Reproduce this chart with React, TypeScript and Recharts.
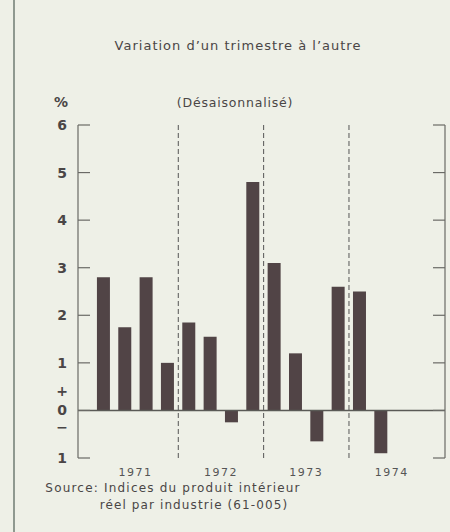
import React from 'react';
import { ComposedChart, Bar, Line, XAxis, YAxis, ReferenceLine } from 'recharts';

const quarters = [1, 2, 3, 4, 5, 6, 7, 8, 9, 10, 11, 12, 13, 14];
const changes = [2.8, 1.75, 2.8, 1.0, 1.85, 1.55, -0.25, 4.8, 3.1, 1.2, -0.65, 2.6, 2.5, -0.9];
const yearLabels = ['1971', '1972', '1973', '1974'];
const yearTickPos = [2.5, 6.5, 10.5, 14.5];
const yearBreaks = [4.5, 8.5, 12.5];
const yTicks = [-1, 0, 1, 2, 3, 4, 5, 6];
const yTickLabels = ['1', '0', '1', '2', '3', '4', '5', '6'];

const data = quarters.map((q, i) => ({ q, v: changes[i] }));

const INK = '#4a4646';
const AXIS = '#6a6a66';
const FONT = '"DejaVu Sans", "Liberation Sans", sans-serif';

const LeftTick = (props: any) => {
  const { x, y, payload } = props;
  const idx = yTicks.indexOf(payload.value);
  return (
    <g>
      <line x1={x} x2={x + 12} y1={y} y2={y} stroke={AXIS} strokeWidth={1.2} />
      <text x={x - 16} y={y} dy={5} textAnchor="middle" fontSize={14} fontWeight={600} fill={INK} fontFamily={FONT}>
        {yTickLabels[idx]}
      </text>
      {payload.value === 0 && (
        <>
          <text x={x - 16} y={y - 19} dy={5} textAnchor="middle" fontSize={14} fontWeight={600} fill={INK} fontFamily={FONT}>+</text>
          <text x={x - 16} y={y + 17} dy={5} textAnchor="middle" fontSize={14} fontWeight={600} fill={INK} fontFamily={FONT}>−</text>
        </>
      )}
    </g>
  );
};

const RightTick = (props: any) => {
  const { x, y } = props;
  return <line x1={x - 12} x2={x} y1={y} y2={y} stroke={AXIS} strokeWidth={1.2} />;
};

const YearTick = (props: any) => {
  const { x, y, payload } = props;
  const idx = yearTickPos.indexOf(payload.value);
  return (
    <text x={x} y={y + 10} textAnchor="middle" fontSize={11} letterSpacing={1.5} fill="#555" fontFamily={FONT}>
      {yearLabels[idx]}
    </text>
  );
};

const textStyle: React.CSSProperties = {
  position: 'absolute',
  fontFamily: FONT,
  color: INK,
  whiteSpace: 'nowrap',
  transform: 'translateX(-50%)',
  lineHeight: '15px',
};

export default function App() {
  return (
    <div style={{ position: 'absolute', left: 0, top: 0, width: 450, height: 532, background: '#eef0e7', overflow: 'hidden' }}>
      <div style={{ position: 'absolute', left: 13, top: 0, width: 2, height: 532, background: '#8f9990' }} />
      <div style={{ ...textStyle, left: 238, top: 38, fontSize: 13, letterSpacing: 1 }}>Variation d’un trimestre à l’autre</div>
      <div style={{ ...textStyle, left: 61, top: 95, fontSize: 14, fontWeight: 700 }}>%</div>
      <div style={{ ...textStyle, left: 235, top: 95, fontSize: 12.5, letterSpacing: 0.8 }}>(Désaisonnalisé)</div>
      <ComposedChart
        width={450}
        height={532}
        data={data}
        margin={{ top: 125, right: 0, bottom: 54, left: 48 }}
        style={{ position: 'absolute', left: 0, top: 0 }}
      >
        <XAxis
          dataKey="q"
          type="number"
          domain={[-0.2, 17]}
          ticks={yearTickPos}
          axisLine={false}
          tickLine={false}
          tick={<YearTick />}
          height={20}
          allowDataOverflow
        />
        <YAxis
          yAxisId="left"
          orientation="left"
          domain={[-1, 6]}
          ticks={yTicks}
          width={30}
          tickSize={0}
          tickMargin={0}
          axisLine={{ stroke: AXIS, strokeWidth: 1.2 }}
          tickLine={false}
          tick={<LeftTick />}
          interval={0}
        />
        <YAxis
          yAxisId="right"
          orientation="right"
          domain={[-1, 6]}
          ticks={yTicks}
          width={5}
          tickSize={0}
          tickMargin={0}
          axisLine={{ stroke: AXIS, strokeWidth: 1.2 }}
          tickLine={false}
          tick={<RightTick />}
          interval={0}
        />
        {yearBreaks.map((b) => (
          <ReferenceLine key={b} yAxisId="left" x={b} stroke="#555" strokeWidth={1} strokeDasharray="5 3" />
        ))}
        <Bar yAxisId="left" dataKey="v" fill="#514446" barSize={13} isAnimationActive={false} />
        <Line yAxisId="right" dataKey="v" stroke="none" dot={false} activeDot={false} isAnimationActive={false} />
        <ReferenceLine yAxisId="left" y={0} stroke="#5a5a56" strokeWidth={1.6} />
      </ComposedChart>
      <div style={{ ...textStyle, left: 173, top: 481, fontSize: 12, letterSpacing: 1.2 }}>Source: Indices du produit intérieur</div>
      <div style={{ ...textStyle, left: 194, top: 498, fontSize: 12, letterSpacing: 1.1 }}>réel par industrie (61-005)</div>
    </div>
  );
}
